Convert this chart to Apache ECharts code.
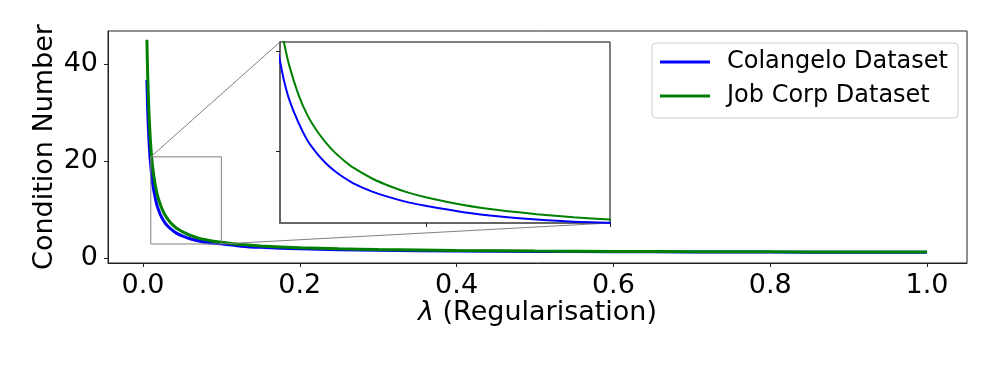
<!DOCTYPE html>
<html>
<head>
<meta charset="utf-8">
<script src="https://cdn.jsdelivr.net/npm/echarts@6/dist/echarts.min.js"></script>
<style>
  html, body { margin: 0; padding: 0; background: #fff; }
  #chart { width: 997px; height: 367px; }
</style>
</head>
<body>
<div id="chart"></div>
<script>
// lambda values (x) and condition numbers
var lambdas = [0.005, 0.006, 0.0075, 0.009, 0.01, 0.011, 0.0125, 0.015, 0.0175, 0.02,
  0.0225, 0.025, 0.0275, 0.03, 0.035, 0.04, 0.045, 0.05, 0.06, 0.07, 0.08, 0.09, 0.1,
  0.125, 0.15, 0.2, 0.25, 0.3, 0.4, 0.5, 0.6, 0.7, 0.8, 0.9, 1.0];
var colangelo = [36.8, 30.6, 24.7, 20.8, 19.0, 17.2, 15.2, 12.9, 11.1, 9.85,
  8.85, 8.05, 7.4, 6.85, 6.05, 5.45, 4.95, 4.58, 3.98, 3.55, 3.25, 3.03, 2.93,
  2.45, 2.2, 1.9, 1.72, 1.6, 1.45, 1.36, 1.3, 1.26, 1.22, 1.2, 1.18];
var jobCorp = [45.1, 38.0, 30.6, 25.6, 23.0, 21.0, 18.6, 15.7, 13.6, 12.1,
  10.9, 9.9, 9.1, 8.4, 7.35, 6.55, 5.92, 5.44, 4.7, 4.16, 3.77, 3.47, 3.24,
  2.78, 2.48, 2.11, 1.89, 1.74, 1.55, 1.44, 1.37, 1.32, 1.28, 1.25, 1.22];
var seriesNames = ['Colangelo Dataset', 'Job Corp Dataset'];
var xTicks = [0, 0.2, 0.4, 0.6, 0.8, 1.0];
var yTicks = [0, 20, 40];
// zoomed region shown in the inset
var zoomX = [0.01, 0.1];
var zoomY = [2.9, 20.9];
var insetXTicks = [0.05, 0.1];
var insetYTicks = [10, 20];

var FONT = 'DejaVu Sans';
var chart = echarts.init(document.getElementById('chart'));

function pairs(ys) {
  return lambdas.map(function (x, i) { return [x, ys[i]]; });
}

var lineBase = {
  type: 'line',
  showSymbol: false,
  smooth: 0.2,
  clip: true,
  animation: false
};

var option = {
  animation: false,
  backgroundColor: '#fff',
  textStyle: { fontFamily: FONT },
  grid: [
    { left: 108, top: 31, width: 859, height: 232, show: true, borderColor: '#222', borderWidth: 1, backgroundColor: 'transparent', containLabel: false },
    { left: 280, top: 42, width: 330, height: 181, show: true, borderColor: '#000', borderWidth: 1, backgroundColor: '#fff', containLabel: false, z: 5 }
  ],
  xAxis: [
    {
      type: 'value', gridIndex: 0, min: -0.0446, max: 1.051,
      splitLine: { show: false },
      axisLine: { show: true, onZero: false, lineStyle: { color: '#222', width: 1 } },
      axisTick: { show: true, inside: false, length: 4, customValues: xTicks, lineStyle: { color: '#222' } },
      axisLabel: {
        customValues: xTicks, margin: 9, color: '#000', fontSize: 27, fontFamily: FONT,
        formatter: function (v) { return v.toFixed(1); }
      },
      name: '{i|λ} (Regularisation)',
      nameLocation: 'middle', nameGap: 36, nameMoveOverlap: false,
      nameTextStyle: {
        color: '#000', fontSize: 27, fontFamily: FONT,
        rich: { i: { fontStyle: 'italic', fontSize: 27, fontFamily: FONT, color: '#000' } }
      }
    },
    {
      type: 'value', gridIndex: 1, min: zoomX[0], max: zoomX[1],
      splitLine: { show: false },
      axisLine: { show: true, onZero: false, lineStyle: { color: '#666', width: 2 } },
      axisTick: { show: true, inside: false, length: 4, customValues: insetXTicks, lineStyle: { color: '#222' } },
      axisLabel: { show: false },
      z: 6
    }
  ],
  yAxis: [
    {
      type: 'value', gridIndex: 0, min: -1.03, max: 46.9,
      splitLine: { show: false },
      axisLine: { show: true, onZero: false, lineStyle: { color: '#222', width: 1 } },
      axisTick: { show: true, inside: false, length: 4, customValues: yTicks, lineStyle: { color: '#222' } },
      axisLabel: { customValues: yTicks, margin: 10, color: '#000', fontSize: 27, fontFamily: FONT },
      name: 'Condition Number',
      nameLocation: 'middle', nameGap: 50, nameMoveOverlap: false,
      nameTextStyle: { color: '#000', fontSize: 27, fontFamily: FONT }
    },
    {
      type: 'value', gridIndex: 1, min: zoomY[0], max: zoomY[1],
      splitLine: { show: false },
      axisLine: { show: true, onZero: false, lineStyle: { color: '#666', width: 2 } },
      axisTick: { show: true, inside: false, length: 4, customValues: insetYTicks, lineStyle: { color: '#222' } },
      axisLabel: { show: false },
      z: 6
    }
  ],
  legend: {
    orient: 'vertical', left: 652, top: 43,
    data: [
      { name: seriesNames[0], icon: 'rect' },
      { name: seriesNames[1], icon: 'rect' }
    ],
    itemWidth: 50, itemHeight: 3, itemGap: 10,
    padding: [7, 10, 10, 8],
    backgroundColor: 'rgba(255,255,255,0.8)',
    borderColor: '#cccccc', borderWidth: 1, borderRadius: 4,
    textStyle: { color: '#000', fontSize: 24, fontFamily: FONT, lineHeight: 24, padding: [0, 0, 0, 12] },
    z: 10
  },
  series: [
    Object.assign({}, lineBase, { name: seriesNames[0], xAxisIndex: 0, yAxisIndex: 0, data: pairs(colangelo), color: '#0000ff', lineStyle: { color: '#0000ff', width: 3 }, z: 2 }),
    Object.assign({}, lineBase, { name: seriesNames[1], xAxisIndex: 0, yAxisIndex: 0, data: pairs(jobCorp), color: '#008000', lineStyle: { color: '#008000', width: 3 }, z: 3 }),
    Object.assign({}, lineBase, { name: seriesNames[0], xAxisIndex: 1, yAxisIndex: 1, data: pairs(colangelo), color: '#0000ff', lineStyle: { color: '#0000ff', width: 2 }, z: 7 }),
    Object.assign({}, lineBase, { name: seriesNames[1], xAxisIndex: 1, yAxisIndex: 1, data: pairs(jobCorp), color: '#008000', lineStyle: { color: '#008000', width: 2 }, z: 7 })
  ]
};

chart.setOption(option);

// zoom rectangle and connector lines, positioned through the axes
function px(g, pt) { return chart.convertToPixel({ gridIndex: g }, pt); }
var r0 = px(0, [zoomX[0], zoomY[1]]);
var r1 = px(0, [zoomX[1], zoomY[0]]);
var i0 = px(1, [zoomX[0], zoomY[1]]);
var i1 = px(1, [zoomX[1], zoomY[0]]);
var grey = '#808080';
chart.setOption({
  graphic: [
    { type: 'rect', z: 4, shape: { x: r0[0], y: r0[1], width: r1[0] - r0[0], height: r1[1] - r0[1] },
      style: { fill: null, stroke: grey, lineWidth: 1 } },
    { type: 'line', z: 4, shape: { x1: r0[0], y1: r0[1], x2: i0[0], y2: i0[1] }, style: { stroke: grey, lineWidth: 1 } },
    { type: 'line', z: 4, shape: { x1: r1[0], y1: r1[1], x2: i1[0], y2: i1[1] }, style: { stroke: grey, lineWidth: 1 } }
  ]
});
</script>
</body>
</html>
